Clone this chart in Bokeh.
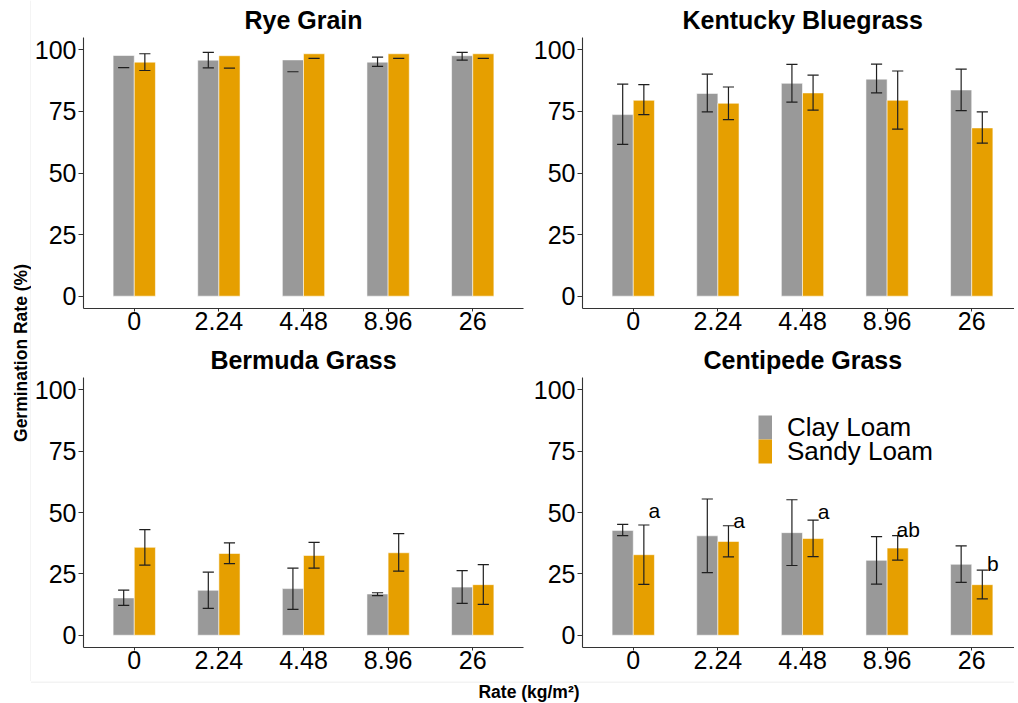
import math
import numpy as np
from bokeh.plotting import figure
from bokeh.models import (ColumnDataSource, Range1d, FixedTicker, Label, Legend,
                          LegendItem)
from bokeh.layouts import row, column
from bokeh.embed import file_html
from bokeh.resources import INLINE
from bokeh.core.properties import value

# ---------------- data ----------------
rates = ["0", "2.24", "4.48", "8.96", "26"]
series = ["Clay Loam", "Sandy Loam"]

rye_clay_mean = [97.7, 95.8, 95.9, 95.0, 97.6]
rye_clay_lo = [92.8, 92.7, 91.1, 93.3, 95.8]
rye_clay_hi = [None, 99.0, None, 97.0, 99.0]
rye_sandy_mean = [95.0, 97.6, 98.4, 98.4, 98.4]
rye_sandy_lo = [91.6, 92.6, 96.5, 96.5, 96.5]
rye_sandy_hi = [98.4, None, None, None, None]

kbg_clay_mean = [73.7, 82.3, 86.4, 88.1, 83.7]
kbg_clay_lo = [61.6, 74.8, 78.8, 82.5, 75.3]
kbg_clay_hi = [86.1, 90.1, 94.1, 94.2, 92.2]
kbg_sandy_mean = [79.5, 78.3, 82.5, 79.5, 68.3]
kbg_sandy_lo = [73.7, 71.7, 75.5, 67.8, 62.1]
kbg_sandy_hi = [85.9, 84.9, 89.7, 91.4, 74.8]

ber_clay_mean = [15.2, 18.3, 19.0, 16.8, 19.6]
ber_clay_lo = [12.2, 10.9, 10.5, 16.1, 13.0]
ber_clay_hi = [18.4, 25.7, 27.3, 17.3, 26.3]
ber_sandy_mean = [35.8, 33.3, 32.5, 33.6, 20.6]
ber_sandy_lo = [28.6, 29.2, 27.3, 26.1, 12.6]
ber_sandy_hi = [43.0, 37.6, 37.8, 41.4, 28.8]

cen_clay_mean = [42.7, 40.5, 41.8, 30.5, 28.9]
cen_clay_lo = [40.6, 25.5, 28.4, 20.8, 21.5]
cen_clay_hi = [45.2, 55.5, 55.2, 40.2, 36.4]
cen_sandy_mean = [32.8, 38.2, 39.4, 35.5, 20.6]
cen_sandy_lo = [20.7, 31.9, 32.0, 30.6, 14.8]
cen_sandy_hi = [44.9, 44.6, 46.9, 40.6, 26.5]
cen_letters = ["a", "a", "a", "ab", "b"]
cen_letter_y = [51.0, 46.8, 50.5, 43.0, 29.3]

y_ticks = [0, 25, 50, 75, 100]

# ---------------- style ----------------
FONT = "Liberation Sans"
CLAY = "#999999"
SANDY = "#E69F00"
AXIS = "#333333"
ERR = "#1f1f1f"
BOX = "#e8e8e8"
BAR_W = 0.25
CAP_HALF = 0.066
PX_PER_UNIT = 440.0 / 5.2


def style_axes(p):
    p.xgrid.visible = False
    p.ygrid.visible = False
    p.outline_line_color = None
    p.background_fill_color = "white"
    p.border_fill_color = "white"
    for ax in (p.xaxis[0], p.yaxis[0]):
        ax.axis_line_color = AXIS
        ax.axis_line_width = 1.1
        ax.major_tick_line_color = AXIS
        ax.major_tick_in = 0
        ax.minor_tick_line_color = None
        ax.major_label_text_font = FONT
        ax.major_label_text_font_size = "25px"
        ax.major_label_text_color = "#000000"
    xa = p.xaxis[0]
    xa.ticker = FixedTicker(ticks=[i + 1 for i in range(len(rates))])
    xa.major_label_overrides = {i + 1: r for i, r in enumerate(rates)}
    xa.major_tick_out = 3
    xa.major_label_standoff = 0
    ya = p.yaxis[0]
    ya.ticker = FixedTicker(ticks=y_ticks)
    ya.major_tick_out = 5
    ya.major_label_standoff = 2


def add_series(p, mean, lo, hi, offset, color):
    xs = [i + 1 + offset for i in range(len(mean))]
    src = ColumnDataSource(dict(x=xs, top=mean))
    p.vbar(x="x", top="top", bottom=0, width=BAR_W, source=src,
           fill_color=color, line_color="white", line_width=1, line_alpha=0.55)
    vx, vlo, vhi = [], [], []
    cx0, cx1, cy = [], [], []
    for x, l, h in zip(xs, lo, hi):
        cx0.append(x - CAP_HALF); cx1.append(x + CAP_HALF); cy.append(l)
        if h is not None:
            vx.append(x); vlo.append(l); vhi.append(h)
            cx0.append(x - CAP_HALF); cx1.append(x + CAP_HALF); cy.append(h)
    p.segment(x0="x", y0="lo", x1="x", y1="hi",
              source=ColumnDataSource(dict(x=vx, lo=vlo, hi=vhi)),
              line_color=ERR, line_width=1.2)
    p.segment(x0="x0", y0="y", x1="x1", y1="y",
              source=ColumnDataSource(dict(x0=cx0, x1=cx1, y=cy)),
              line_color=ERR, line_width=1.2)


def panel(title, clay, sandy, width, height, left, right, top, bottom,
          title_align="center", title_offset=0):
    frame_w = width - left - right
    x_end = 0.4 + frame_w / PX_PER_UNIT
    p = figure(width=width, height=height, x_range=Range1d(0.4, x_end),
               y_range=Range1d(-5, 105), output_backend="svg",
               toolbar_location=None, min_border_left=left,
               min_border_right=right, min_border_top=top,
               min_border_bottom=bottom)
    style_axes(p)
    add_series(p, *clay, -BAR_W / 2, CLAY)
    add_series(p, *sandy, BAR_W / 2, SANDY)
    p.title.text = title
    p.title.align = title_align
    p.title.offset = title_offset
    p.title.text_font = FONT
    p.title.text_font_size = "25px"
    p.title.text_font_style = "bold"
    p.title.text_color = "#000000"
    p.title.standoff = 7
    return p


TOP_H, BOT_H = 340, 341
p_rye = panel("Rye Grain",
              (rye_clay_mean, rye_clay_lo, rye_clay_hi),
              (rye_sandy_mean, rye_sandy_lo, rye_sandy_hi),
              499, TOP_H, 52, 7, 36, 32)
p_kbg = panel("Kentucky Bluegrass",
              (kbg_clay_mean, kbg_clay_lo, kbg_clay_hi),
              (kbg_sandy_mean, kbg_sandy_lo, kbg_sandy_hi),
              484, TOP_H, 52, 0, 36, 32, title_align="left", title_offset=100)
p_ber = panel("Bermuda Grass",
              (ber_clay_mean, ber_clay_lo, ber_clay_hi),
              (ber_sandy_mean, ber_sandy_lo, ber_sandy_hi),
              499, BOT_H, 52, 7, 35, 34)
p_cen = panel("Centipede Grass",
              (cen_clay_mean, cen_clay_lo, cen_clay_hi),
              (cen_sandy_mean, cen_sandy_lo, cen_sandy_hi),
              484, BOT_H, 52, 0, 35, 34, title_align="left", title_offset=121)

# significance letters
p_cen.text(x=[i + 1 + 0.25 for i in range(len(cen_letters))], y=cen_letter_y,
           text=cen_letters, text_font=value(FONT), text_font_size="21px",
           text_align="center", text_baseline="middle", text_color="#000000")

# legend: keys drawn as thick strokes so that the two keys touch, one legend per item
key_src = dict(x=np.array([np.nan]), y=np.array([np.nan]))
k_clay = p_cen.line(x="x", y="y", source=ColumnDataSource(key_src), line_color=CLAY,
                    line_width=24, line_cap="butt")
k_sandy = p_cen.line(x="x", y="y", source=ColumnDataSource(key_src), line_color=SANDY,
                     line_width=24, line_cap="butt")
for label, rend, loc_y in ((series[0], k_clay, 203), (series[1], k_sandy, 179)):
    lg = Legend(items=[LegendItem(label=label, renderers=[rend])],
                location=(176, loc_y), orientation="vertical",
                glyph_width=14, glyph_height=34, spacing=0, padding=0, margin=0,
                label_standoff=15, label_height=34, label_text_font=FONT,
                label_text_font_size="26px", label_text_color="#000000",
                label_text_baseline="middle",
                border_line_color=None, background_fill_alpha=0)
    p_cen.add_layout(lg, "center")

# left strip with the y title
H_ALL = TOP_H + BOT_H
strip_l = figure(width=31, height=H_ALL, x_range=Range1d(0, 31),
                 y_range=Range1d(H_ALL, 0), output_backend="svg",
                 toolbar_location=None, x_axis_location=None, y_axis_location=None,
                 min_border=0, outline_line_color=None)
strip_l.xgrid.visible = False
strip_l.ygrid.visible = False
strip_l.segment(x0=[30.5], y0=[0], x1=[30.5], y1=[H_ALL], line_color=BOX, line_width=1)
strip_l.add_layout(Label(x=20.5, y=352.5, angle=math.pi / 2, text="Germination Rate (%)",
                         text_align="center", text_baseline="middle",
                         text_font=FONT, text_font_size="17.5px",
                         text_font_style="bold", text_color="#000000"))

# bottom strip with the x title
SB_H = 21
strip_b = figure(width=1014, height=SB_H, x_range=Range1d(0, 1014),
                 y_range=Range1d(H_ALL + SB_H, H_ALL), output_backend="svg",
                 toolbar_location=None, x_axis_location=None, y_axis_location=None,
                 min_border=0, outline_line_color=None)
strip_b.xgrid.visible = False
strip_b.ygrid.visible = False
strip_b.segment(x0=[30.5], y0=[H_ALL + 0.5], x1=[1014], y1=[H_ALL + 0.5],
                line_color=BOX, line_width=1)
strip_b.add_layout(Label(x=528.5, y=691.5, text="Rate (kg/m²)", text_align="center",
                         text_baseline="middle", text_font=FONT,
                         text_font_size="17.5px", text_font_style="bold",
                         text_color="#000000"))

layout = column(row(strip_l, column(row(p_rye, p_kbg), row(p_ber, p_cen))), strip_b)

open("out.html", "w").write(file_html(layout, INLINE))
